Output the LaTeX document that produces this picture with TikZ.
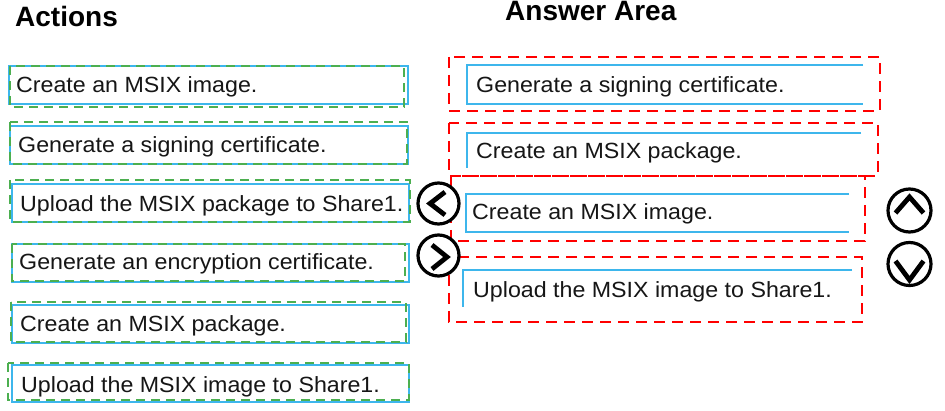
\documentclass[tikz,border=0pt]{standalone}
\usepackage{fontspec}
\setmainfont{Liberation Sans}
\newfontfamily\boxfont[FakeStretch=1.055]{Liberation Sans}
\definecolor{boxblue}{HTML}{3DB6EC}
\definecolor{dashgreen}{HTML}{4CAF50}
\definecolor{dashred}{HTML}{FF0000}
\definecolor{inkdark}{HTML}{161616}
\tikzset{
  bluebox/.style={draw=boxblue,line width=1.8pt},
  greendash/.style={draw=dashgreen,line width=2pt,dash pattern=on 9pt off 6pt},
  reddash/.style={draw=dashred,line width=2.4pt,dash pattern=on 11pt off 7pt},
  itemtext/.style={anchor=base west,inner sep=0pt,font=\boxfont\fontsize{22}{24}\selectfont,text=inkdark},
  headtext/.style={anchor=base west,inner sep=0pt,font=\bfseries\fontsize{28}{32}\selectfont,text=black},
  ring/.style={draw=black,line width=3.2pt},
  chevron/.style={draw=black,line width=4.8pt,line join=miter,line cap=butt}
}
\begin{document}
\begin{tikzpicture}[x=1pt,y=-1pt]
\useasboundingbox[fill=white] (0,0) rectangle (945,411);

% headers
\node[headtext] (hact) at (15,27) {Actions};
\node[headtext] (hans) at (505,20.5) {Answer Area};

% left action boxes
\draw[bluebox] (9,66) rectangle (408,104);
\draw[greendash] (10,66) rectangle (404,107);
\node[itemtext] (a1) at (16,93) {Create an MSIX image.};

\draw[bluebox] (10,126) rectangle (408,164);
\draw[greendash] (10,122) rectangle (407,164);
\node[itemtext] (a2) at (18,153) {Generate a signing certificate.};

\draw[bluebox] (12,184) rectangle (409,222);
\draw[greendash] (10,180) rectangle (410,222);
\node[itemtext] (a3) at (20,212) {Upload the MSIX package to Share1.};

\draw[bluebox] (12,244) rectangle (409,282);
\draw[greendash] (12,244) rectangle (405,281);
\node[itemtext] (a4) at (19,270) {Generate an encryption certificate.};

\draw[bluebox] (12,305) rectangle (409,343);
\draw[greendash] (11,302) rectangle (406,342);
\node[itemtext] (a5) at (20,332) {Create an MSIX package.};

\draw[bluebox] (12,365) rectangle (409,402);
\draw[greendash] (8,363) rectangle (409,400);
\node[itemtext] (a6) at (21,392) {Upload the MSIX image to Share1.};

% answer area
\draw[bluebox] (863,65) -- (467,65) -- (467,104) -- (863,104);
\node[itemtext] (r1) at (476,93) {Generate a signing certificate.};
\draw[reddash] (449,57) rectangle (880,111);

\draw[bluebox] (861,133) -- (467,133) -- (467,168);
\node[itemtext] (r2) at (476,159) {Create an MSIX package.};
\draw[reddash] (449,123) rectangle (878,176);

\draw[bluebox] (849,194) -- (466,194) -- (466,232) -- (849,232);
\node[itemtext] (r3) at (472,220) {Create an MSIX image.};
\draw[reddash] (451,176) rectangle (865,241);

\draw[bluebox] (852,270) -- (463,270) -- (463,307);
\node[itemtext] (r4) at (473,298) {Upload the MSIX image to Share1.};
\draw[reddash] (449,257) rectangle (862,322);

% move buttons
\draw[ring,fill=white] (438.5,203.5) circle (20.5);
\draw[chevron] (445,192) -- (430,203.5) -- (445,215);
\draw[ring,fill=white] (438.5,255.5) circle (20.5);
\draw[chevron] (432,245) -- (447,257) -- (432,269);

\draw[ring] (909.5,210.5) circle (21.5);
\draw[chevron] (895.5,213) -- (909.5,197) -- (923.5,213);
\draw[ring] (909.5,264) circle (21.5);
\draw[chevron] (895.5,261) -- (909.5,280) -- (923.5,261);
\end{tikzpicture}
\end{document}
